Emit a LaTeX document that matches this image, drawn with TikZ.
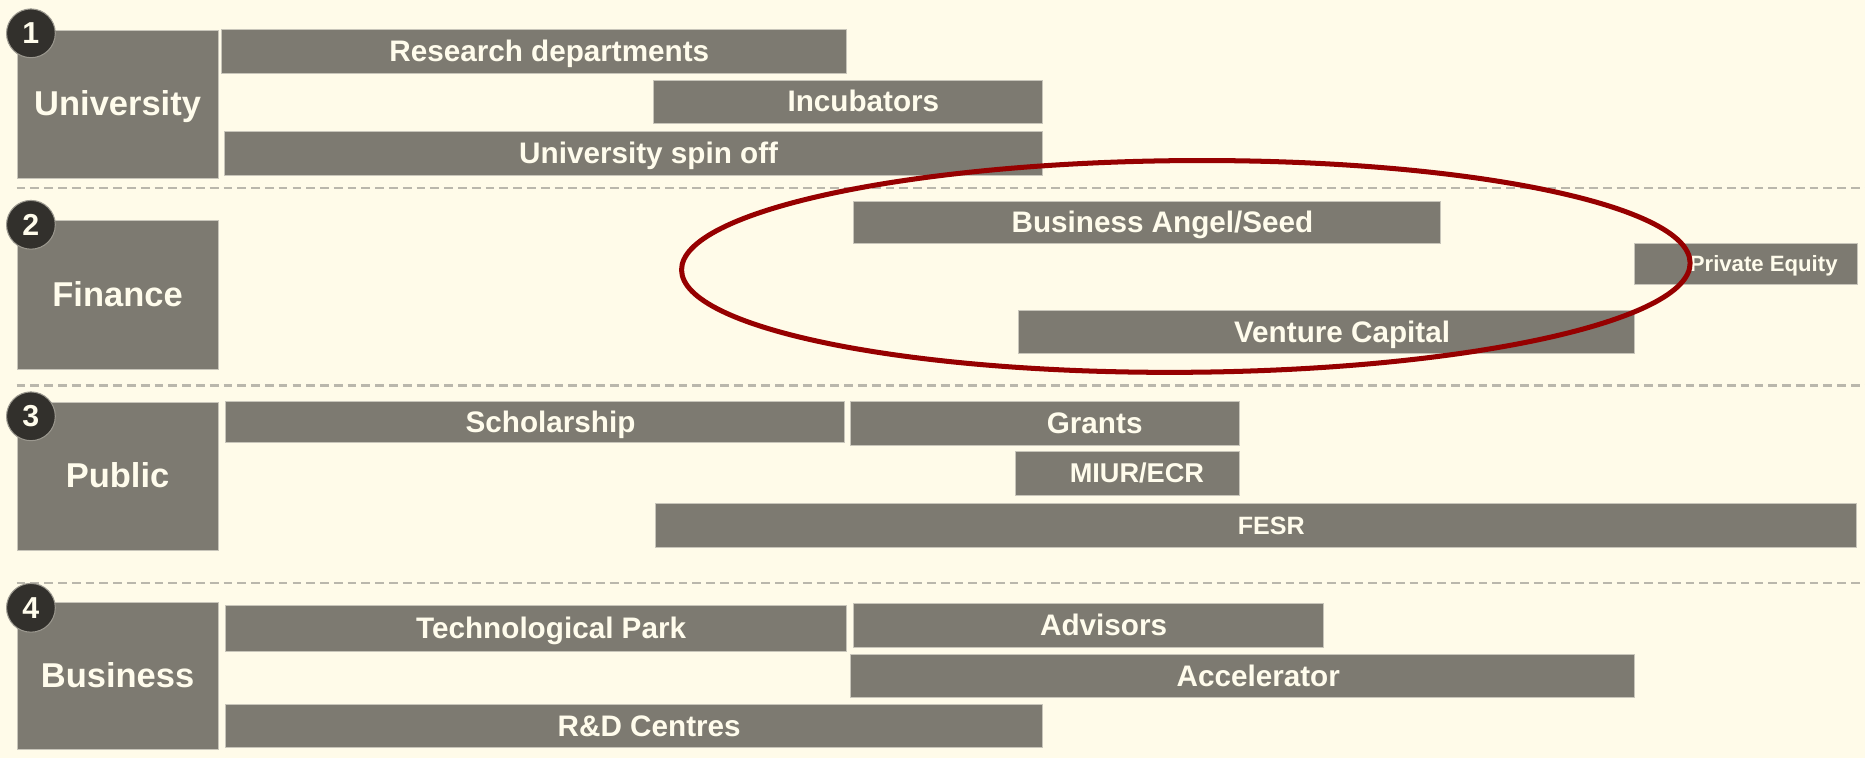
\documentclass[tikz,border=0pt]{standalone}
\usepackage{fontspec}
\setmainfont{Liberation Sans}
\usetikzlibrary{positioning}

\definecolor{paper}{RGB}{255,251,233}
\definecolor{slab}{RGB}{125,122,113}
\definecolor{slabedge}{RGB}{200,197,186}
\definecolor{cream}{RGB}{255,252,236}
\definecolor{dot}{RGB}{50,48,44}
\definecolor{rule}{RGB}{186,183,172}
\definecolor{halored}{RGB}{150,0,0}

\newlength\unitpx
\setlength\unitpx{0.02cm}

\begin{document}
\begin{tikzpicture}[x=\unitpx, y=-\unitpx,
 bar node/.style={rectangle, fill=slab, draw=slabedge, line width=0.4pt, anchor=north west,
   inner sep=0pt, text=cream, font=\bfseries\fontsize{14.2}{16}\selectfont,
   text height=9.6pt, text depth=0pt,
   execute at begin node=\hspace*{26\unitpx}},
 row node/.style={rectangle, fill=slab, draw=slabedge, line width=0.4pt, anchor=north west,
   inner sep=0pt, minimum width=169\unitpx, text=cream, font=\bfseries\fontsize{16.5}{18}\selectfont,
   text height=11pt, text depth=0pt},
 num node/.style={circle, fill=dot, draw=slabedge!70!dot, line width=0.5pt, minimum size=41\unitpx,
   inner sep=0pt, text=cream, font=\bfseries\fontsize{14.5}{16}\selectfont},
 sep line/.style={rule, line width=1.2pt, dash pattern=on 4.2pt off 2.4pt},
 halo/.style={halored, line width=2.4pt}]

  \fill[paper] (0,0) rectangle (1568,637);
  \useasboundingbox (0,0) rectangle (1568,637);

  % separators
  \draw[sep line] (14,158) -- (1568,158);
  \draw[sep line] (14,324) -- (1568,324);
  \draw[sep line] (14,490) -- (1568,490);

  % rows
  \node[row node, minimum height=125\unitpx] (uni) at (14,25) {University};
  \node[row node, minimum height=125\unitpx] (fin) at (14,185) {Finance};
  \node[row node, minimum height=124\unitpx] (pub) at (14,338) {Public};
  \node[row node, minimum height=124\unitpx] (bus) at (14,506) {Business};

  \node[num node] (n1) at ([shift={(12,3)}]uni.north west) {1};
  \node[num node] (n2) at ([shift={(12,4)}]fin.north west) {2};
  \node[num node] (n3) at ([shift={(12,12)}]pub.north west) {3};
  \node[num node] (n4) at ([shift={(12,5)}]bus.north west) {4};

  % university
  \node[bar node, minimum width=525\unitpx, minimum height=37\unitpx] (resdep) at (186,24) {Research departments};
  \node[bar node, minimum width=327\unitpx, minimum height=36\unitpx] (incub) at (549,67) {Incubators};
  \node[bar node, minimum width=688\unitpx, minimum height=37\unitpx] (spinoff) at (188,110) {University spin off};

  % finance
  \node[bar node, minimum width=494\unitpx, minimum height=35\unitpx] (angel) at (717,169) {Business Angel/Seed};
  \node[bar node, minimum width=187\unitpx, minimum height=35\unitpx, text height=7.2pt] (equity) at (1374,204) {\hspace*{4\unitpx}\fontsize{10.6}{12}\selectfont Private Equity};
  \node[bar node, minimum width=518\unitpx, minimum height=36\unitpx] (venture) at (856,261) {Venture Capital};

  % public
  \node[bar node, minimum width=521\unitpx, minimum height=35\unitpx] (schol) at (189,337) {Scholarship};
  \node[bar node, minimum width=327\unitpx, minimum height=37\unitpx] (grants) at (715,337) {\hspace*{57\unitpx}Grants};
  \node[bar node, minimum width=189\unitpx, minimum height=37\unitpx, text height=8.8pt] (miur) at (853,379) {\hspace*{-10\unitpx}\fontsize{13}{15}\selectfont MIUR/ECR};
  \node[bar node, minimum width=1009\unitpx, minimum height=37\unitpx, text height=8.2pt] (fesr) at (551,423) {\fontsize{12}{14}\selectfont FESR};

  % business
  \node[bar node, minimum width=522\unitpx, minimum height=38\unitpx] (techpark) at (189,509) {Technological Park};
  \node[bar node, minimum width=395\unitpx, minimum height=37\unitpx] (advisors) at (717,507) {Advisors};
  \node[bar node, minimum width=659\unitpx, minimum height=36\unitpx] (accel) at (715,550) {Accelerator};
  \node[bar node, minimum width=687\unitpx, minimum height=36\unitpx] (rnd) at (189,592) {R\&D Centres};

  % highlight
  \draw[halo, rotate around={0.4:(997,224)}] (997,224) ellipse [x radius=424, y radius=89];
\end{tikzpicture}
\end{document}
